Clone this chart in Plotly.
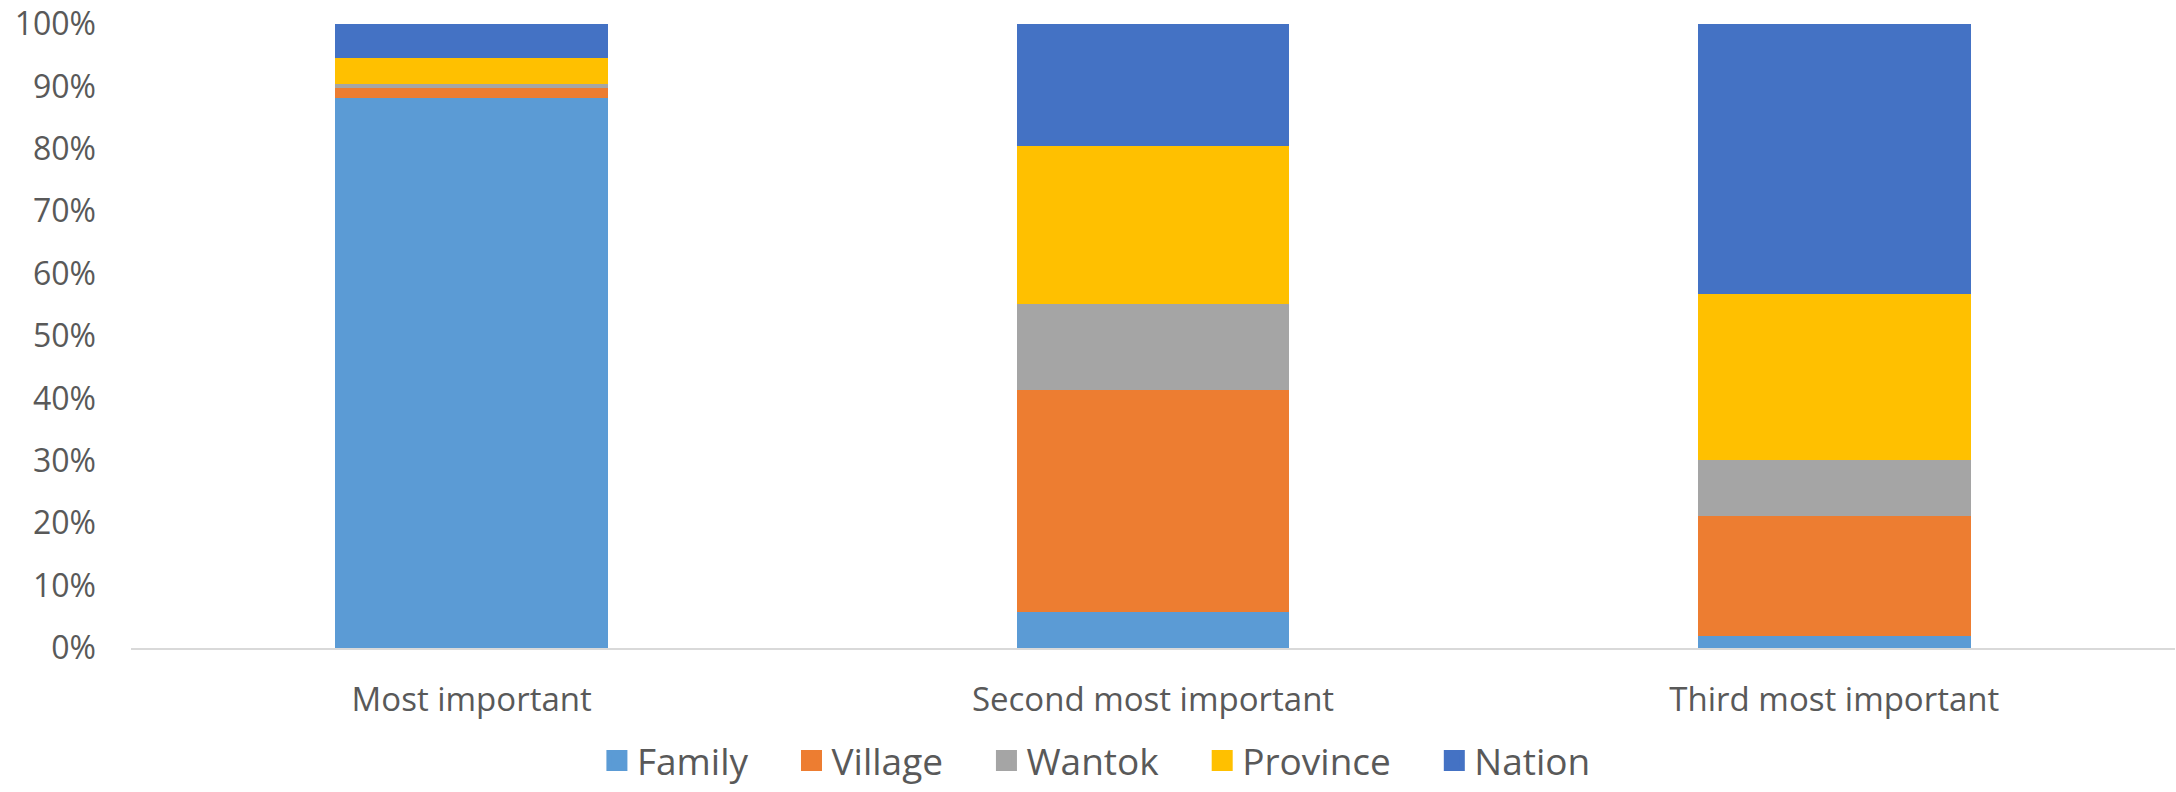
import plotly.graph_objects as go

categories = ["Most important", "Second most important", "Third most important"]
family = [88.1, 5.8, 1.9]
village = [1.7, 35.6, 19.3]
wantok = [0.6, 13.7, 9.0]
province = [4.2, 25.3, 26.5]
nation = [5.4, 19.6, 43.3]

series_names = ["Family", "Village", "Wantok", "Province", "Nation"]
series_values = [family, village, wantok, province, nation]
colors = ["#5B9BD5", "#ED7D31", "#A5A5A5", "#FFC000", "#4472C4"]

PAD = "\u00a0\u00a0\u00a0\u00a0"  # extra spacing between legend entries

fig = go.Figure()
for name, vals, col in zip(series_names, series_values, colors):
    fig.add_trace(go.Bar(
        x=categories, y=vals, name=name, legendgroup=name, showlegend=False,
        marker=dict(color=col, line=dict(width=0)),
    ))
# legend entries with larger square swatches
for name, col in zip(series_names, colors):
    fig.add_trace(go.Scatter(
        x=[None], y=[None], mode="markers", name=name + PAD, legendgroup=name,
        marker=dict(symbol="square", size=16, color=col, line=dict(color=col, width=5)),
        hoverinfo="skip",
    ))

font_family = "Open Sans, Noto Sans, sans-serif"
fig.update_layout(
    barmode="stack",
    bargap=0.6,
    width=2176,
    height=792,
    margin=dict(l=131, r=1, t=24, b=144),
    paper_bgcolor="white",
    plot_bgcolor="white",
    font=dict(family=font_family, size=32, color="#595959"),
    legend=dict(
        orientation="h",
        traceorder="normal",
        xref="container",
        x=0.5126,
        xanchor="center",
        yref="container",
        y=0.0,
        yanchor="bottom",
        font=dict(size=37, color="#595959"),
        itemclick=False,
        itemdoubleclick=False,
    ),
    showlegend=True,
)
fig.update_xaxes(
    type="category",
    showline=True,
    linecolor="#D9D9D9",
    linewidth=1.5,
    showgrid=False,
    ticks="",
    ticklabelstandoff=22,
    automargin=False,
    tickfont=dict(size=33, color="#595959"),
)
fig.update_yaxes(
    range=[0, 100],
    dtick=10,
    ticksuffix="%",
    showgrid=False,
    zeroline=False,
    showline=False,
    ticks="",
    ticklabelstandoff=34,
    automargin=False,
    tickfont=dict(size=32, color="#595959"),
)

fig.write_html(
    "out.html",
    config={"displayModeBar": False},
    post_script="document.body.style.margin='0';document.body.style.overflow='hidden';",
)
